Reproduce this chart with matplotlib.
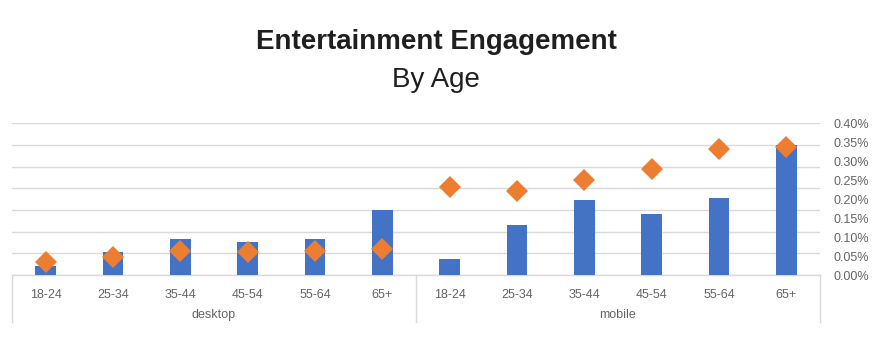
import matplotlib
matplotlib.use("Agg")
import matplotlib.pyplot as plt
import matplotlib.transforms as mtransforms
from matplotlib.ticker import FuncFormatter, MultipleLocator

# ---- data ----
groups = ["desktop", "mobile"]
ages = ["18-24", "25-34", "35-44", "45-54", "55-64", "65+"]
bar_desktop = [0.024, 0.061, 0.095, 0.086, 0.094, 0.171]
bar_mobile = [0.041, 0.132, 0.197, 0.162, 0.203, 0.344]
dia_desktop = [0.033, 0.047, 0.064, 0.060, 0.064, 0.068]
dia_mobile = [0.232, 0.222, 0.250, 0.280, 0.332, 0.338]
yticks_right = [0.00, 0.05, 0.10, 0.15, 0.20, 0.25, 0.30, 0.35, 0.40]

bars = bar_desktop + bar_mobile
dias = dia_desktop + dia_mobile
labels = ages + ages
x = list(range(len(labels)))

BLUE = "#4472C4"
ORANGE = "#ED7D31"
GRID = "#D9D9D9"
TXT = "#646464"

plt.rcParams["font.family"] = ["Liberation Sans", "DejaVu Sans"]

fig = plt.figure(figsize=(8.72, 3.64), dpi=100)
W, H = 872, 364
left, right = 12 / W, 820 / W
bottom, top = (H - 275) / H, (H - 123.3) / H
ax = fig.add_axes([left, bottom, right - left, top - bottom])
ax2 = ax.twinx()

# primary (hidden) axis provides the gridlines
ax.set_xlim(-0.5, len(labels) - 0.5)
ax.set_ylim(0, 0.35)
ax.yaxis.set_major_locator(MultipleLocator(0.05))
ax.grid(axis="y", color=GRID, linewidth=1.0)
ax.set_axisbelow(True)
ax.tick_params(axis="y", left=False, labelleft=False, length=0)
for s in ["top", "left", "right"]:
    ax.spines[s].set_visible(False)
ax.spines["bottom"].set_color(GRID)
ax.spines["bottom"].set_linewidth(1.0)

ax.set_xticks(x)
ax.set_xticklabels(labels, fontsize=9, color=TXT)
ax.tick_params(axis="x", length=0, pad=10)

# secondary axis: data and visible labels
ax2.set_ylim(0, 0.40)
ax2.set_yticks(yticks_right)
ax2.yaxis.set_major_formatter(FuncFormatter(lambda v, p: f"{v:.2f}%"))
ax2.tick_params(axis="y", length=0, pad=10, labelsize=9, labelcolor=TXT)
for s in ["top", "left", "right", "bottom"]:
    ax2.spines[s].set_visible(False)

ax2.bar(x, bars, width=0.31, color=BLUE, zorder=2)
ax2.plot(x, dias, linestyle="none", marker="D", markersize=11.5,
         color=ORANGE, markeredgewidth=0, zorder=3)

# category separators below axis
trans = mtransforms.blended_transform_factory(ax.transData, ax.transAxes)
depth = -(322 - 275) / (275 - 123.3)
for xv in [-0.5, 5.5, 11.5]:
    ax.plot([xv, xv], [0, depth], transform=trans, color=GRID,
            linewidth=1.0, clip_on=False)
for gi, g in enumerate(groups):
    cx = gi * len(ages) + (len(ages) - 1) / 2
    ax.text(cx, -(315 - 275) / (275 - 123.3), g, transform=trans,
            ha="center", va="center", fontsize=9, color=TXT)

fig.text(0.5, 1 - 42 / H, "Entertainment Engagement", ha="center",
         va="center", fontsize=20, fontweight="bold", color="#1F1F1F")
fig.text(0.5, 1 - 80 / H, "By Age", ha="center", va="center",
         fontsize=20, color="#1F1F1F")

fig.savefig("out.png", dpi=100, facecolor="white")
